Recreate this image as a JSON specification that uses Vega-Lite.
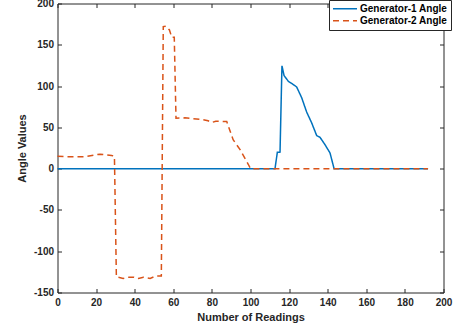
{
  "$schema": "https://vega.github.io/schema/vega-lite/v6.json",
  "width": 386,
  "height": 289,
  "autosize": {"type": "none"},
  "padding": {"left": 57.5, "top": 3.5, "right": 12.5, "bottom": 36.5},
  "background": "white",
  "config": {
    "view": {"stroke": null},
    "axis": {
      "domainColor": "#262626",
      "domainWidth": 1,
      "tickColor": "#262626",
      "tickWidth": 1,
      "tickSize": -4,
      "labelColor": "#262626",
      "titleColor": "#262626",
      "labelFont": "Liberation Sans",
      "labelFontWeight": "bold",
      "labelFontSize": 10,
      "titleFont": "Liberation Sans",
      "titleFontSize": 11,
      "titleFontWeight": "bold",
      "grid": false,
      "labelFlush": false,
      "labelOverlap": false
    },
    "legend": {
      "labelFont": "Liberation Sans",
      "labelFontWeight": "bold",
      "labelFontSize": 10,
      "labelColor": "#000000"
    }
  },
  "data": {
    "values": [
      {"series": "Generator-1 Angle", "reading": 0, "angle": 0},
      {"series": "Generator-1 Angle", "reading": 112.7, "angle": 0},
      {"series": "Generator-1 Angle", "reading": 113.9, "angle": 19.8},
      {"series": "Generator-1 Angle", "reading": 115.3, "angle": 20},
      {"series": "Generator-1 Angle", "reading": 116.3, "angle": 124.5},
      {"series": "Generator-1 Angle", "reading": 117.4, "angle": 112.7},
      {"series": "Generator-1 Angle", "reading": 119.6, "angle": 105.8},
      {"series": "Generator-1 Angle", "reading": 122.2, "angle": 101.8},
      {"series": "Generator-1 Angle", "reading": 123.9, "angle": 99},
      {"series": "Generator-1 Angle", "reading": 126.5, "angle": 86},
      {"series": "Generator-1 Angle", "reading": 129.1, "angle": 68.5},
      {"series": "Generator-1 Angle", "reading": 131.7, "angle": 55.4},
      {"series": "Generator-1 Angle", "reading": 134.3, "angle": 40},
      {"series": "Generator-1 Angle", "reading": 136, "angle": 38},
      {"series": "Generator-1 Angle", "reading": 138.6, "angle": 29},
      {"series": "Generator-1 Angle", "reading": 141.2, "angle": 19},
      {"series": "Generator-1 Angle", "reading": 143.3, "angle": 0},
      {"series": "Generator-1 Angle", "reading": 192, "angle": 0},
      {"series": "Generator-2 Angle", "reading": 0, "angle": 15},
      {"series": "Generator-2 Angle", "reading": 5, "angle": 14.5},
      {"series": "Generator-2 Angle", "reading": 14, "angle": 14.5},
      {"series": "Generator-2 Angle", "reading": 22, "angle": 17.5},
      {"series": "Generator-2 Angle", "reading": 28, "angle": 16},
      {"series": "Generator-2 Angle", "reading": 29.5, "angle": 15},
      {"series": "Generator-2 Angle", "reading": 30.5, "angle": -131},
      {"series": "Generator-2 Angle", "reading": 34, "angle": -133},
      {"series": "Generator-2 Angle", "reading": 37, "angle": -131.5},
      {"series": "Generator-2 Angle", "reading": 39.5, "angle": -131.5},
      {"series": "Generator-2 Angle", "reading": 42, "angle": -133},
      {"series": "Generator-2 Angle", "reading": 44.5, "angle": -131.5},
      {"series": "Generator-2 Angle", "reading": 48, "angle": -133},
      {"series": "Generator-2 Angle", "reading": 51, "angle": -130},
      {"series": "Generator-2 Angle", "reading": 53.8, "angle": -130},
      {"series": "Generator-2 Angle", "reading": 54.8, "angle": 172},
      {"series": "Generator-2 Angle", "reading": 56.2, "angle": 172.5},
      {"series": "Generator-2 Angle", "reading": 58, "angle": 168},
      {"series": "Generator-2 Angle", "reading": 59.2, "angle": 159},
      {"series": "Generator-2 Angle", "reading": 60.5, "angle": 159},
      {"series": "Generator-2 Angle", "reading": 61.4, "angle": 61},
      {"series": "Generator-2 Angle", "reading": 66, "angle": 61.5},
      {"series": "Generator-2 Angle", "reading": 70, "angle": 60.5},
      {"series": "Generator-2 Angle", "reading": 75, "angle": 59.5},
      {"series": "Generator-2 Angle", "reading": 78, "angle": 58},
      {"series": "Generator-2 Angle", "reading": 80, "angle": 56},
      {"series": "Generator-2 Angle", "reading": 82, "angle": 57.5},
      {"series": "Generator-2 Angle", "reading": 87.7, "angle": 57},
      {"series": "Generator-2 Angle", "reading": 91, "angle": 35},
      {"series": "Generator-2 Angle", "reading": 94.6, "angle": 23},
      {"series": "Generator-2 Angle", "reading": 98.9, "angle": 5},
      {"series": "Generator-2 Angle", "reading": 100, "angle": 0},
      {"series": "Generator-2 Angle", "reading": 192, "angle": 0}
    ]
  },
  "layer": [
    {
      "mark": {"type": "line", "strokeWidth": 1.5},
      "encoding": {
        "x": {
          "field": "reading", "type": "quantitative",
          "scale": {"domain": [0, 200], "nice": false, "zero": false},
          "axis": {"orient": "bottom", "values": [0, 20, 40, 60, 80, 100, 120, 140, 160, 180, 200], "labelPadding": 9, "title": "Number of Readings", "titlePadding": 4}
        },
        "y": {
          "field": "angle", "type": "quantitative",
          "scale": {"domain": [-150, 200], "nice": false, "zero": false},
          "axis": {"orient": "left", "values": [-150, -100, -50, 0, 50, 100, 150, 200], "labelPadding": 8, "title": "Angle Values", "titlePadding": 6,
            "labelExpr": "datum.value < 0 ? '-' + abs(datum.value) : '' + datum.value"}
        },
        "color": {
          "field": "series", "type": "nominal",
          "scale": {"domain": ["Generator-1 Angle", "Generator-2 Angle"], "range": ["#0072BD", "#D95319"]},
          "legend": {"title": null, "orient": "none", "legendX": 271.5, "legendY": -3.5, "symbolType": "stroke", "symbolSize": 576, "symbolStrokeWidth": 1.5, "strokeColor": "#262626", "fillColor": "white", "padding": 3, "rowPadding": 0, "clipHeight": 11.5, "labelOffset": 2}
        },
        "strokeDash": {
          "field": "series", "type": "nominal",
          "scale": {"domain": ["Generator-1 Angle", "Generator-2 Angle"], "range": [[1, 0], [6, 4]]},
          "legend": {"title": null, "orient": "none", "legendX": 271.5, "legendY": -3.5, "symbolType": "stroke", "symbolSize": 576, "symbolStrokeWidth": 1.5, "strokeColor": "#262626", "fillColor": "white", "padding": 3, "rowPadding": 0, "clipHeight": 11.5, "labelOffset": 2}
        },
        "order": {"field": "reading", "type": "quantitative"}
      }
    },
    {
      "mark": {"type": "point", "opacity": 0},
      "encoding": {
        "x": {"field": "reading", "type": "quantitative", "axis": {"orient": "top", "labels": false, "title": null, "values": [0, 20, 40, 60, 80, 100, 120, 140, 160, 180, 200]}},
        "y": {"field": "angle", "type": "quantitative", "axis": {"orient": "right", "labels": false, "title": null, "values": [-150, -100, -50, 0, 50, 100, 150, 200]}}
      }
    }
  ],
  "resolve": {"axis": {"x": "independent", "y": "independent"}}
}
